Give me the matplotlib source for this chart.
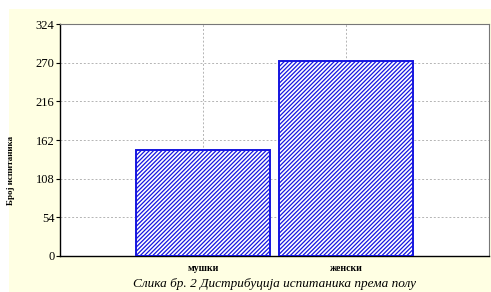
import numpy as np
import matplotlib.pyplot as plt
from matplotlib.patches import Rectangle

categories = ["мушки", "женски"]
counts = [148, 272]
yticks = [0, 54, 108, 162, 216, 270, 324]

plt.rcParams['font.family'] = ['Liberation Serif', 'DejaVu Serif']
plt.rcParams['hatch.color'] = '#3c3cf5'
plt.rcParams['hatch.linewidth'] = 0.9

fig = plt.figure(figsize=(4.91, 2.92), dpi=100, facecolor='white')
# yellow panel, leaving a thin white strip top and left
fig.patches.append(Rectangle((9 / 491, 0), 1 - 9 / 491, 1 - 9 / 292,
                             transform=fig.transFigure, facecolor='#FFFFE3',
                             edgecolor='none', zorder=-1))

ax = fig.add_axes([60 / 491, 36 / 292, 429 / 491, 232 / 292])
ax.set_facecolor('white')

x = np.arange(len(categories))
ax.bar(x, counts, width=0.94, color='white', edgecolor='#1515e0',
       linewidth=1.4, hatch='////////', zorder=3)

ax.set_xlim(-1, 2)
ax.set_ylim(0, 324)
ax.set_yticks(yticks)
ax.set_yticklabels([str(t) for t in yticks], fontsize=9)
ax.set_xticks(x)
ax.set_xticklabels(categories, fontsize=7, fontweight='bold')
ax.tick_params(axis='x', length=0, pad=6)
ax.tick_params(axis='y', length=3, width=0.8, pad=1)

ax.grid(True, color='#b4b4b4', linestyle=(0, (2, 2)), linewidth=0.7, zorder=0)

for s in ['top', 'right']:
    ax.spines[s].set_color('#777777')
    ax.spines[s].set_linewidth(0.8)
for s in ['left', 'bottom']:
    ax.spines[s].set_color('black')
    ax.spines[s].set_linewidth(1.0)

ax.set_ylabel("Број испитаника", fontsize=6.5, fontweight='bold')
ax.yaxis.set_label_coords(-0.105, 0.37)
ax.set_xlabel("Слика бр. 2 Дистрибуција испитаника према полу",
              fontsize=9.5, style='italic', labelpad=3)

fig.savefig("out.png", dpi=100, facecolor=fig.get_facecolor())
